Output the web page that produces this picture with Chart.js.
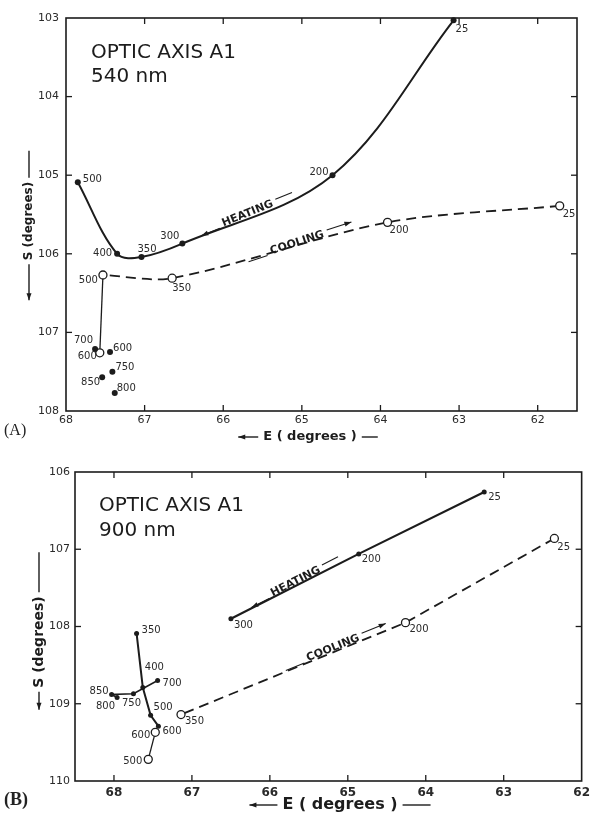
<!DOCTYPE html>
<html lang="en">
<head>
<meta charset="UTF-8">
<title>Optic axis A1 - heating / cooling</title>
<script src="https://cdn.jsdelivr.net/npm/chart.js"></script>
<style>
    body {
        margin: 0;
        background: #fff;
        width: 595px;
        height: 819px;
        position: relative;
        overflow: hidden;
    }
    canvas { position: absolute; left: 0; }
    #panelA { top: 0; }
    #panelB { top: 450px; }
    .tag {
        position: absolute;
        left: 4px;
        font-family: "Liberation Serif", serif;
        color: #222;
    }
</style>
</head>
<body>

<canvas id="panelA" width="595" height="450"></canvas>
<canvas id="panelB" width="595" height="369"></canvas>
<div class="tag" style="top:421px;font-size:16px;">(A)</div>
<div class="tag" style="top:789px;font-size:18px;font-weight:bold;">(B)</div>

<script>
// ---- panel A : 540 nm ----
const xTicksA = [68, 67, 66, 65, 64, 63, 62];
const yTicksA = [103, 104, 105, 106, 107, 108];

const tempsHeatA = [25, 200, 300, 350, 400, 500];
const eHeatA = [63.07, 64.61, 66.52, 67.04, 67.35, 67.85];
const sHeatA = [103.03, 105.0, 105.87, 106.04, 106.0, 105.09];

const tempsHotA = [600, 700, 750, 850, 800];
const eHotA = [67.44, 67.63, 67.41, 67.54, 67.38];
const sHotA = [107.25, 107.21, 107.5, 107.57, 107.77];

const tempsCoolA = [25, 200, 350, 500, 600];
const eCoolA = [61.72, 63.91, 66.65, 67.53, 67.57];
const sCoolA = [105.39, 105.6, 106.31, 106.27, 107.26];

// ---- panel B : 900 nm ----
const xTicksB = [68, 67, 66, 65, 64, 63, 62];
const yTicksB = [106, 107, 108, 109, 110];

const tempsHeatB = [25, 200, 300];
const eHeatB = [63.25, 64.86, 66.5];
const sHeatB = [106.26, 107.06, 107.9];

const tempsDropB = [350, 400, 500, 600];
const eDropB = [67.71, 67.63, 67.53, 67.43];
const sDropB = [108.09, 108.79, 109.15, 109.29];

const tempsHotB = [700, 750, 850, 800];
const eHotB = [67.44, 67.75, 68.03, 67.96];
const sHotB = [108.7, 108.87, 108.88, 108.92];

const tempsCoolB = [25, 200, 350];
const eCoolB = [62.35, 64.26, 67.14];
const sCoolB = [106.86, 107.95, 109.14];

const tempsBackB = [600, 500];
const eBackB = [67.47, 67.56];
const sBackB = [109.37, 109.72];

const ink = '#1c1c1c';

function pts(es, ss) {
    return es.map((e, i) => ({ x: e, y: ss[i] }));
}

function filled(data, temps, labelPos, extra) {
    return Object.assign({
        data: data, temps: temps, labelPos: labelPos,
        showLine: false, clip: false,
        borderColor: ink, borderWidth: 2,
        pointRadius: 3, pointBackgroundColor: ink, pointBorderWidth: 0,
        pointHoverRadius: 3
    }, extra || {});
}

function open(data, temps, labelPos, extra) {
    return Object.assign({
        data: data, temps: temps, labelPos: labelPos,
        showLine: false, clip: false,
        borderColor: ink, borderWidth: 1.8,
        pointRadius: 4, pointBackgroundColor: '#fff',
        pointBorderColor: ink, pointBorderWidth: 1.3,
        pointHoverRadius: 4
    }, extra || {});
}

function arrowLine(ctx, x1, y1, x2, y2, head) {
    ctx.beginPath();
    ctx.moveTo(x1, y1);
    ctx.lineTo(x2, y2);
    ctx.stroke();
    if (head) {
        const a = Math.atan2(y2 - y1, x2 - x1);
        ctx.beginPath();
        ctx.moveTo(x2, y2);
        ctx.lineTo(x2 - 7 * Math.cos(a) + 2.5 * Math.sin(a), y2 - 7 * Math.sin(a) - 2.5 * Math.cos(a));
        ctx.lineTo(x2 - 7 * Math.cos(a) - 2.5 * Math.sin(a), y2 - 7 * Math.sin(a) + 2.5 * Math.cos(a));
        ctx.closePath();
        ctx.fill();
    }
}

const decor = {
    id: 'decor',
    afterDatasetsDraw(chart, args, o) {
        const ctx = chart.ctx;
        const a = chart.chartArea;
        const xs = chart.scales.x, ys = chart.scales.y;
        ctx.save();
        ctx.strokeStyle = ink;
        ctx.fillStyle = ink;

        // frame + inward ticks
        ctx.lineWidth = 1.6;
        ctx.strokeRect(a.left, a.top, a.right - a.left, a.bottom - a.top);
        ctx.lineWidth = 1.3;
        o.xTicks.forEach(v => {
            const px = xs.getPixelForValue(v);
            if (px < a.left + 2 || px > a.right - 2) return;
            arrowLine(ctx, px, a.bottom, px, a.bottom - 6);
            arrowLine(ctx, px, a.top, px, a.top + 6);
        });
        o.yTicks.forEach(v => {
            const py = ys.getPixelForValue(v);
            if (py < a.top + 2 || py > a.bottom - 2) return;
            arrowLine(ctx, a.left, py, a.left + 6, py);
            arrowLine(ctx, a.right, py, a.right - 6, py);
        });

        // temperature labels beside the points
        ctx.font = '10px "DejaVu Sans"';
        ctx.fillStyle = '#2a2a2a';
        ctx.textBaseline = 'middle';
        chart.data.datasets.forEach((ds, i) => {
            if (!ds.temps) return;
            const meta = chart.getDatasetMeta(i);
            ds.temps.forEach((t, j) => {
                const lp = ds.labelPos[j];
                if (!lp) return;
                const el = meta.data[j];
                ctx.textAlign = lp[2];
                ctx.fillText(String(t), el.x + lp[0], el.y + lp[1]);
            });
        });

        // HEATING / COOLING notes along the curves
        ctx.fillStyle = ink;
        o.notes.forEach(n => {
            const cx = xs.getPixelForValue(n.e), cy = ys.getPixelForValue(n.s);
            ctx.save();
            ctx.translate(cx, cy);
            ctx.rotate(-n.angle * Math.PI / 180);
            ctx.font = 'bold ' + n.size + 'px "DejaVu Sans"';
            ctx.textAlign = 'center';
            ctx.textBaseline = 'middle';
            ctx.fillText(n.text, 0, 0);
            const w = ctx.measureText(n.text).width / 2;
            ctx.lineWidth = 1.1;
            if (n.text === 'HEATING') {
                arrowLine(ctx, -w - 4, 3, -w - 24, 3, true);
                arrowLine(ctx, w + 4, -3, w + 22, -3);
            } else {
                arrowLine(ctx, -w - 4, 3, -w - 24, 3);
                arrowLine(ctx, w + 4, -3, w + 30, -3, true);
            }
            ctx.restore();
        });

        // panel caption
        ctx.fillStyle = ink;
        ctx.textAlign = 'left';
        ctx.textBaseline = 'alphabetic';
        ctx.font = o.title.size + 'px "DejaVu Sans"';
        o.title.lines.forEach((t, k) => ctx.fillText(t, o.title.x, o.title.y + k * o.title.gap));

        // x axis title
        const xt = o.xTitle;
        ctx.font = 'bold ' + xt.size + 'px "DejaVu Sans"';
        ctx.textAlign = 'center';
        ctx.textBaseline = 'middle';
        ctx.fillText('E ( degrees )', xt.cx, xt.y);
        let hw = ctx.measureText('E ( degrees )').width / 2;
        ctx.lineWidth = 1.4;
        arrowLine(ctx, xt.cx - hw - 5, xt.y, xt.cx - hw - 5 - xt.left, xt.y, true);
        arrowLine(ctx, xt.cx + hw + 5, xt.y, xt.cx + hw + 5 + xt.right, xt.y);

        // y axis title, reading upward, arrow pointing down
        const yt = o.yTitle;
        ctx.save();
        ctx.translate(yt.x, yt.cy);
        ctx.rotate(-Math.PI / 2);
        ctx.font = 'bold ' + yt.size + 'px "DejaVu Sans"';
        ctx.fillText('S (degrees)', 0, 0);
        hw = ctx.measureText('S (degrees)').width / 2;
        arrowLine(ctx, -hw - 4, 0, -hw - 4 - yt.below, 0, true);
        arrowLine(ctx, hw + 4, 0, hw + 4 + yt.above, 0);
        ctx.restore();

        ctx.restore();
    }
};

function makePanel(id, cfg) {
    const H = cfg.height;
    return new Chart(document.getElementById(id), {
        type: 'scatter',
        data: { datasets: cfg.datasets },
        options: {
            responsive: false,
            animation: false,
            devicePixelRatio: 1,
            layout: { padding: { top: cfg.area.top, right: 595 - cfg.area.right, left: 0, bottom: 0 } },
            plugins: {
                legend: { display: false },
                tooltip: { enabled: false },
                decor: cfg.decor
            },
            scales: {
                x: {
                    type: 'linear', reverse: true,
                    min: cfg.xMin, max: cfg.xMax,
                    afterBuildTicks: s => { s.ticks = cfg.decor.xTicks.map(v => ({ value: v })); },
                    afterFit: s => { s.height = H - cfg.area.bottom; },
                    grid: { display: false, drawTicks: false },
                    border: { display: false },
                    ticks: { padding: cfg.xPad, color: '#2a2a2a', font: cfg.xFont, maxRotation: 0, autoSkip: false }
                },
                y: {
                    type: 'linear', reverse: true,
                    min: cfg.yMin, max: cfg.yMax,
                    afterBuildTicks: s => { s.ticks = cfg.decor.yTicks.map(v => ({ value: v })); },
                    afterFit: s => { s.width = cfg.area.left; },
                    grid: { display: false, drawTicks: false },
                    border: { display: false },
                    ticks: { padding: cfg.yPad, color: '#2a2a2a', font: cfg.yFont, autoSkip: false }
                }
            }
        },
        plugins: [decor]
    });
}

// panel A
const coolA = pts(eCoolA, sCoolA);
makePanel('panelA', {
    height: 450,
    area: { left: 66, right: 577, top: 18, bottom: 411 },
    xMin: 61.5, xMax: 68, yMin: 103, yMax: 108,
    xPad: 3, yPad: 7,
    xFont: { family: 'DejaVu Sans', size: 11 },
    yFont: { family: 'DejaVu Sans', size: 11 },
    datasets: [
        filled(pts(eHeatA, sHeatA), tempsHeatA,
            [[2, 9, 'left'], [-4, -3, 'right'], [-3, -7, 'right'], [-4, -8, 'left'], [-5, 0, 'right'], [5, -3, 'left']],
            { showLine: true, tension: 0.35 }),
        filled(pts(eHotA, sHotA), tempsHotA,
            [[3, -4, 'left'], [-2, -8, 'right'], [3, -4, 'left'], [-2, 5, 'right'], [2, -5, 'left']]),
        open(coolA.slice(0, 4), tempsCoolA.slice(0, 4),
            [[3, 9, 'left'], [2, 8, 'left'], [0, 10, 'left'], [-5, 5, 'right']],
            { showLine: true, tension: 0.3, borderDash: [10, 6] }),
        open(coolA.slice(3), tempsCoolA.slice(3),
            [null, [-3, 4, 'right']],
            { showLine: true, borderWidth: 1.3, pointRadius: [0, 4] })
    ],
    decor: {
        xTicks: xTicksA, yTicks: yTicksA,
        notes: [
            { text: 'HEATING', e: 65.69, s: 105.49, angle: 22, size: 11 },
            { text: 'COOLING', e: 65.06, s: 105.86, angle: 18, size: 11 }
        ],
        title: { lines: ['OPTIC AXIS A1', '540 nm'], x: 91, y: 58, gap: 24, size: 20 },
        xTitle: { cx: 310, y: 437, size: 13, left: 20, right: 16 },
        yTitle: { x: 29, cy: 221, size: 12, above: 27, below: 36 }
    }
});

// panel B
makePanel('panelB', {
    height: 369,
    area: { left: 75, right: 586, top: 22, bottom: 331 },
    xMin: 62, xMax: 68.5, yMin: 106, yMax: 110,
    xPad: 5, yPad: 5,
    xFont: { family: 'DejaVu Sans', size: 12, weight: 'bold' },
    yFont: { family: 'DejaVu Sans', size: 11 },
    datasets: [
        filled(pts(eHeatB, sHeatB), tempsHeatB,
            [[4, 5, 'left'], [3, 6, 'left'], [3, 7, 'left']],
            { showLine: true, borderWidth: 2.2, pointRadius: 2.5 }),
        filled(pts(eDropB, sDropB), tempsDropB,
            [[5, -3, 'left'], [2, -20, 'left'], [3, -8, 'left'], [4, 5, 'left']],
            { showLine: true, borderWidth: 2, pointRadius: 2.5 }),
        filled(pts(eHotB, sHotB), tempsHotB,
            [[5, 3, 'left'], [-2, 10, 'center'], [-3, -3, 'right'], [-2, 9, 'right']],
            { showLine: true, borderWidth: 1.6, pointRadius: 2.5 }),
        open(pts(eCoolB, sCoolB), tempsCoolB,
            [[3, 9, 'left'], [4, 7, 'left'], [4, 7, 'left']],
            { showLine: true, borderDash: [10, 6] }),
        open(pts(eBackB, sBackB), tempsBackB,
            [[-5, 3, 'right'], [-6, 2, 'right']],
            { showLine: true, borderWidth: 1.3 })
    ],
    decor: {
        xTicks: xTicksB, yTicks: yTicksB,
        notes: [
            { text: 'HEATING', e: 65.67, s: 107.42, angle: 27, size: 11 },
            { text: 'COOLING', e: 65.19, s: 108.28, angle: 22, size: 11 }
        ],
        title: { lines: ['OPTIC AXIS A1', '900 nm'], x: 99, y: 61, gap: 25, size: 20 },
        xTitle: { cx: 340, y: 355, size: 16, left: 28, right: 28 },
        yTitle: { x: 39, cy: 192, size: 14, above: 40, below: 18 }
    }
});
</script>
</body>
</html>
